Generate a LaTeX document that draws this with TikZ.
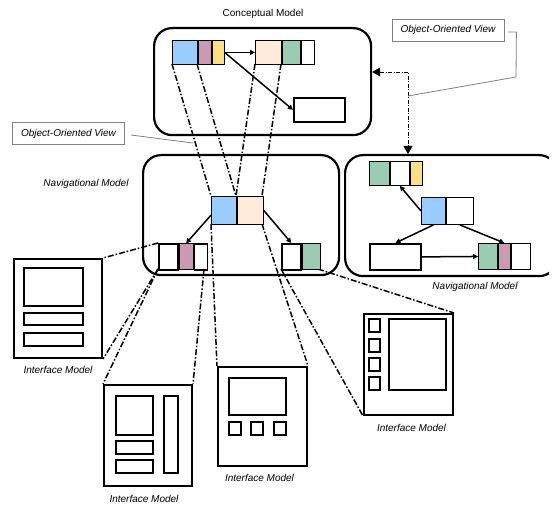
\documentclass[tikz,border=0pt]{standalone}
\usepackage{fontspec}
\setmainfont{Liberation Sans}
\usetikzlibrary{arrows.meta,positioning}

\definecolor{cblue}{RGB}{153,204,255}
\definecolor{cpink}{RGB}{204,153,178}
\definecolor{cyellow}{RGB}{255,224,128}
\definecolor{cpeach}{RGB}{255,235,217}
\definecolor{cgreen}{RGB}{153,204,178}

\tikzset{
  model/.style={draw, line width=2.2pt, rounded corners=18pt, anchor=north west, inner sep=0pt},
  cell/.style={draw, line width=0.9pt, anchor=north west, inner sep=0pt},
  screen/.style={draw, line width=2pt, anchor=north west, inner sep=0pt},
  widget/.style={draw, line width=1.6pt},
  proj/.style={line width=1.5pt, dash pattern=on 6pt off 2pt on 1.5pt off 2pt},
  assoc/.style={line width=1.5pt, -{Triangle[length=5pt,width=5pt]}},
  viewbox/.style={draw=gray, line width=0.8pt, minimum width=112pt, minimum height=22pt, inner sep=0pt, font=\fontsize{10}{12}\selectfont\itshape},
  lbl/.style={inner sep=1pt, font=\fontsize{10}{12}\selectfont\itshape}
}

\begin{document}
\begin{tikzpicture}[x=1pt, y=-1pt]
  \useasboundingbox (0,0) rectangle (559,510);

  % model frames
  \node[model, minimum width=217pt, minimum height=107pt] (concept) at (153,27) {};
  \node[model, minimum width=196pt, minimum height=120pt] (navM) at (142,154) {};
  \begin{scope}
    \clip (0,0) rectangle (549,510);
    \node[model, minimum width=212pt, minimum height=121pt] (navR) at (344,154) {};
  \end{scope}
  \node[inner sep=1pt, font=\fontsize{10}{12}\selectfont] (conceptlbl) at (263,14) {Conceptual Model};
  \node[lbl] (navMlbl) at (86,184) {Navigational Model};
  \node[lbl] (navRlbl) at (475,287) {Navigational Model};

  % interface models
  \node[screen, minimum width=88pt, minimum height=99pt] (im1) at (13,258) {};
  \node[screen, minimum width=88pt, minimum height=101pt] (im2) at (103,384) {};
  \node[screen, minimum width=89pt, minimum height=99pt] (im3) at (217,366) {};
  \node[screen, minimum width=89pt, minimum height=101pt] (im4) at (363,313) {};
  \node[lbl, below=6pt of im1] (im1lbl) {Interface Model};
  \node[lbl, below=7pt of im2, xshift=-4pt] (im2lbl) {Interface Model};
  \node[lbl, below=6pt of im3, xshift=-3pt] (im3lbl) {Interface Model};
  \node[lbl, below=7pt of im4, xshift=3pt] (im4lbl) {Interface Model};

  \draw[widget] (24,268) rectangle (83,306);
  \draw[widget] (24,313) rectangle (83,325);
  \draw[widget] (24,333) rectangle (83,346);

  \draw[widget] (116,396) rectangle (153,435);
  \draw[widget] (116,441) rectangle (153,454);
  \draw[widget] (116,460) rectangle (153,473);
  \draw[widget] (164,396) rectangle (178,473);

  \draw[widget] (229,378) rectangle (286,415);
  \foreach \x in {229,251,274}
    \draw[widget] (\x,422) rectangle ++(12,13);

  \draw[widget] (389,319) rectangle (446,390);
  \foreach \y in {319,339,358,377}
    \draw[widget] (369,\y) rectangle ++(11,13);

  % projection lines
  \draw[proj] (172,64) -- (211,196);
  \draw[proj] (197,64) -- (236,196);
  \draw[proj] (255,64) -- (236,196);
  \draw[proj] (281,64) -- (262,196);
  \draw[proj] (158,243) -- (im1.north east);
  \draw[proj] (158,269) -- (im1.south east);
  \draw[proj] (158,269) -- (im2.north west);
  \draw[proj] (204,269) -- (im2.north east);
  \draw[proj] (211,224) -- (im3.north west);
  \draw[proj] (262,224) -- (im3.north east);
  \draw[proj] (281,269) -- (im4.south west);
  \draw[proj] (318,269) -- (im4.north east);

  % conceptual classes
  \node[cell, fill=cblue, minimum width=25pt, minimum height=24pt] (c1a) at (172,40) {};
  \node[cell, fill=cpink, minimum width=13pt, minimum height=24pt, right=0pt of c1a] (c1b) {};
  \node[cell, fill=cyellow, minimum width=12pt, minimum height=24pt, right=0pt of c1b] (c1c) {};
  \node[cell, fill=cpeach, minimum width=26pt, minimum height=24pt] (c2a) at (255,40) {};
  \node[cell, fill=cgreen, minimum width=18pt, minimum height=24pt, right=0pt of c2a] (c2b) {};
  \node[cell, minimum width=13pt, minimum height=24pt, right=0pt of c2b] (c2c) {};
  \node[cell, line width=1.8pt, minimum width=51pt, minimum height=24pt] (c3) at (293,97) {};
  \draw[assoc] (c1c.east) -- (c2a.west);
  \draw[assoc] (c1c.east) -- (c3.west);

  % navigational classes
  \node[cell, fill=cblue, minimum width=25pt, minimum height=28pt] (n1a) at (211,196) {};
  \node[cell, fill=cpeach, minimum width=26pt, minimum height=28pt, right=0pt of n1a] (n1b) {};
  \node[cell, line width=1.6pt, minimum width=19pt, minimum height=26pt] (n2a) at (158,243) {};
  \node[cell, fill=cpink, minimum width=14pt, minimum height=26pt, right=0pt of n2a] (n2b) {};
  \node[cell, line width=1.6pt, minimum width=13pt, minimum height=26pt, right=0pt of n2b] (n2c) {};
  \node[cell, line width=1.6pt, minimum width=19pt, minimum height=26pt] (n3a) at (281,243) {};
  \node[cell, fill=cgreen, minimum width=18pt, minimum height=26pt, right=0pt of n3a] (n3b) {};
  \draw[assoc] (n1a.200) -- (n2b.north);
  \draw[assoc] (n1b.east) -- (n3a.north);

  \node[cell, fill=cgreen, minimum width=20pt, minimum height=24pt] (r1a) at (369,161) {};
  \node[cell, minimum width=19pt, minimum height=24pt, right=0pt of r1a] (r1b) {};
  \node[cell, fill=cyellow, minimum width=12pt, minimum height=24pt, right=0pt of r1b] (r1c) {};
  \node[cell, fill=cblue, minimum width=24pt, minimum height=27pt] (r2a) at (421,197) {};
  \node[cell, minimum width=27pt, minimum height=27pt, right=0pt of r2a] (r2b) {};
  \node[cell, line width=1.8pt, minimum width=51pt, minimum height=26pt] (r3) at (369,243) {};
  \node[cell, fill=cgreen, minimum width=19pt, minimum height=26pt] (r4a) at (478,243) {};
  \node[cell, fill=cpink, minimum width=12pt, minimum height=26pt, right=0pt of r4a] (r4b) {};
  \node[cell, line width=1.6pt, minimum width=19pt, minimum height=26pt, right=0pt of r4b] (r4c) {};
  \draw[assoc] (r2a.west) -- (r1b.south);
  \draw[assoc] (r2a.south) -- (r3.north);
  \draw[assoc] (r2b.south) -- (r4b.north);
  \draw[assoc] (r3.east) -- (r4a.west);

  % object-oriented views
  \node[viewbox] (oov1) at (448,30) {Object-Oriented View};
  \node[viewbox] (oov2) at (68.5,133.5) {Object-Oriented View};
  \coordinate (dv) at (408,72);
  \coordinate (dvhit) at (408,96);
  \draw[line width=0.8pt, dash pattern=on 4pt off 1.5pt on 1pt off 1.5pt,
        {Triangle[length=8pt,width=9pt]}-{Triangle[length=8pt,width=9pt]}]
        (concept.east |- dv) -- (dv) -- (navR.north -| dv);
  \draw[gray, line width=0.8pt] (oov1.east) ++(4,2) -- ++(8,0) -- (516,77) -- (dvhit);
  \draw[gray, line width=0.8pt] (oov2.east) ++(6,1.5) -- (193,143);
\end{tikzpicture}
\end{document}
